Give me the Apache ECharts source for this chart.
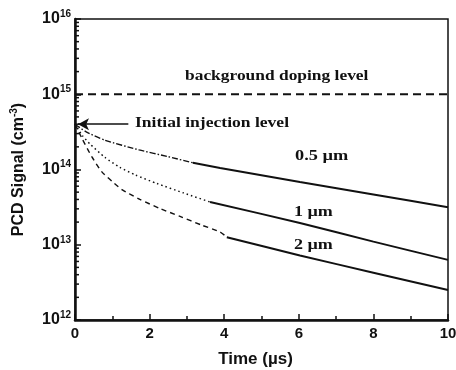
<!DOCTYPE html>
<html>
<head>
<meta charset="utf-8">
<script src="https://cdn.jsdelivr.net/npm/echarts@6/dist/echarts.min.js"></script>
<style>
  html, body { margin: 0; padding: 0; background: #fff; }
  #chart { width: 456px; height: 370px; }
</style>
</head>
<body>
<div id="chart"></div>
<script>
// 0.5 um curve: early (dash-dot) and late (solid) parts
const t05Early = [0, 0.3, 0.8, 1.72, 2.5, 3.16];
const v05Early = [4.0e14, 3.16e14, 2.45e14, 1.82e14, 1.48e14, 1.23e14];
const t05Late = [3.16, 3.89, 6.03, 8, 10];
const v05Late = [1.23e14, 1.05e14, 6.8e13, 4.65e13, 3.15e13];

// 1 um curve
const t1Early = [0, 0.2, 0.4, 0.8, 1.2, 1.61, 2.2, 2.9, 3.62];
const v1Early = [4.0e14, 2.82e14, 2.19e14, 1.45e14, 1.07e14, 8.5e13, 6.5e13, 4.9e13, 3.7e13];
const t1Late = [3.62, 6.03, 8, 10];
const v1Late = [3.7e13, 1.95e13, 1.1e13, 6.3e12];

// 2 um curve
const t2Early = [0, 0.19, 0.45, 0.72, 1.0, 1.26, 1.74, 2.3, 2.8, 3.4, 3.89, 4.07];
const v2Early = [4.0e14, 2.57e14, 1.48e14, 9.3e13, 6.9e13, 5.4e13, 4.0e13, 3.0e13, 2.4e13, 1.82e13, 1.48e13, 1.26e13];
const t2Late = [4.07, 6.03, 8, 10];
const v2Late = [1.26e13, 7.2e12, 4.25e12, 2.5e12];

const backgroundLevel = 1e15;
const injectionLevel = 4.0e14;

const xTicks = [0, 2, 4, 6, 8, 10];
const yDecades = [1e12, 1e13, 1e14, 1e15];
const minorMultipliers = [2, 3, 4, 5, 6, 7, 8, 9];

const minorTickValues = [];
yDecades.forEach((d) => minorMultipliers.forEach((m) => minorTickValues.push(m * d)));

const zip = (ts, vs) => ts.map((t, i) => [t, vs[i]]);

const SANS = "'Liberation Sans', Arial, sans-serif";
const SERIF = "'Liberation Serif', 'Times New Roman', serif";

const chart = echarts.init(document.getElementById("chart"));

const curve = (data, type, width) => ({
  type: "line",
  data,
  smooth: 0.2,
  symbol: "none",
  silent: true,
  lineStyle: { color: "#111", width, type },
  z: 3,
});

// serif annotation, stretched a bit wider like the scanned original
const note = (text, x, y, sx) => ({
  type: "text",
  x,
  y,
  scaleX: sx,
  style: { text, font: "bold 15px " + SERIF, fill: "#111", verticalAlign: "middle" },
});

chart.setOption({
  animation: false,
  backgroundColor: "#fff",
  grid: {
    left: 75,
    right: 8,
    top: 19,
    bottom: 50,
    outerBoundsMode: "none",
    containLabel: false,
    show: true,
    borderColor: "#111",
    borderWidth: 1.5,
  },
  xAxis: {
    type: "value",
    min: 0,
    max: 10,
    interval: 2,
    name: "Time (µs)",
    nameLocation: "middle",
    nameGap: 31,
    nameTextStyle: {
      fontFamily: SANS,
      fontWeight: "bold",
      fontSize: 17,
      color: "#111",
      padding: [0, 12, 0, 0],
    },
    axisLine: { show: true, onZero: false, lineStyle: { color: "#111", width: 2.5 } },
    axisTick: { show: true, inside: true, length: 6, lineStyle: { color: "#111", width: 1.5 } },
    minorTick: { show: true, splitNumber: 2, length: 4, lineStyle: { color: "#111", width: 1.5 } },
    splitLine: { show: false },
    axisLabel: {
      margin: 6,
      fontFamily: SANS,
      fontWeight: "bold",
      fontSize: 15,
      color: "#111",
      formatter: (v) => (xTicks.includes(v) ? String(v) : ""),
    },
  },
  yAxis: {
    type: "log",
    min: 1e12,
    max: 1e16,
    logBase: 10,
    name: "PCD Signal (cm{s|-3})",
    nameLocation: "middle",
    nameRotate: 90,
    nameGap: 47,
    nameTextStyle: {
      fontFamily: SANS,
      fontWeight: "bold",
      fontSize: 16,
      color: "#111",
      rich: {
        s: { fontFamily: SANS, fontWeight: "bold", fontSize: 10, color: "#111", padding: [0, 0, 9, 0] },
      },
    },
    axisLine: { show: true, lineStyle: { color: "#111", width: 2.5 } },
    axisTick: { show: true, inside: true, length: 6, lineStyle: { color: "#111", width: 1.5 } },
    splitLine: { show: false },
    axisLabel: {
      margin: 4,
      formatter: (v) => "{b|10}{s|" + Math.round(Math.log10(v)) + "}",
      rich: {
        b: { fontFamily: SANS, fontWeight: "bold", fontSize: 16, color: "#111" },
        s: { fontFamily: SANS, fontWeight: "bold", fontSize: 10, color: "#111", padding: [0, 0, 10, 0] },
      },
    },
  },
  series: [
    // log-spaced minor ticks on the left axis
    {
      type: "custom",
      silent: true,
      clip: false,
      data: minorTickValues.map((v) => [0, v]),
      renderItem: (params, api) => {
        const p = api.coord([0, api.value(1)]);
        return {
          type: "line",
          shape: { x1: p[0], y1: p[1], x2: p[0] + 4, y2: p[1] },
          style: { stroke: "#111", lineWidth: 1.5 },
        };
      },
      z: 4,
    },
    // background doping level
    {
      type: "line",
      data: [[0, backgroundLevel], [10, backgroundLevel]],
      symbol: "none",
      silent: true,
      lineStyle: { color: "#111", width: 2.2, type: [8, 5] },
    },
    curve(zip(t05Early, v05Early), [6, 2, 1.5, 2], 1.4),
    curve(zip(t05Late, v05Late), "solid", 2),
    curve(zip(t1Early, v1Early), [1.5, 3], 1.5),
    curve(zip(t1Late, v1Late), "solid", 2),
    curve(zip(t2Early, v2Early), [5, 4], 1.4),
    curve(zip(t2Late, v2Late), "solid", 2),
    // injection arrow
    {
      type: "line",
      data: [],
      silent: true,
      markLine: {
        silent: true,
        animation: false,
        symbol: ["none", "arrow"],
        symbolSize: [9, 11],
        label: { show: false },
        lineStyle: { color: "#111", width: 1.5, type: "solid" },
        data: [[{ coord: [1.43, injectionLevel] }, { coord: [0.08, injectionLevel] }]],
      },
    },
  ],
  graphic: [
    note("background doping level", 185, 76, 1.16),
    note("Initial injection level", 135, 123, 1.17),
    note("0.5 µm", 295, 156, 1.22),
    note("1 µm", 294, 212, 1.2),
    note("2 µm", 294, 245, 1.2),
  ],
});
</script>
</body>
</html>
